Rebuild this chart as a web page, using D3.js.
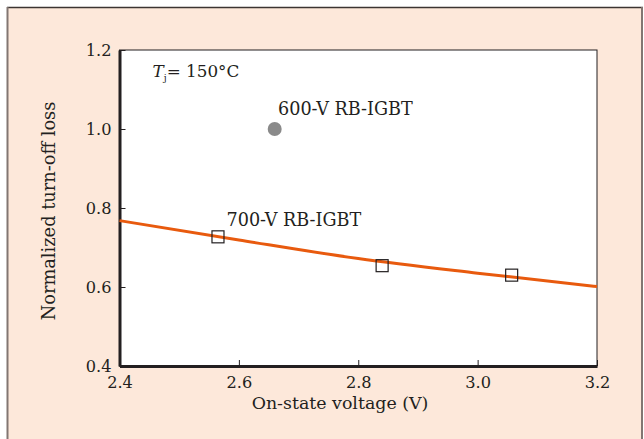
<!DOCTYPE html>
<html>
<head>
<meta charset="utf-8">
<script src="https://cdn.jsdelivr.net/npm/d3@7/dist/d3.min.js"></script>
<style>
  html, body { margin: 0; padding: 0; background: #ffffff; }
  svg { display: block; }
  text { font-family: "DejaVu Serif", "Liberation Serif", serif; fill: #231f20; }
</style>
</head>
<body>
<svg id="chart" width="644" height="439"></svg>
<script>
// Normalized turn-off loss vs on-state voltage, Tj = 150 °C
const xTicks = [2.4, 2.6, 2.8, 3.0, 3.2];
const yTicks = [0.4, 0.6, 0.8, 1.0, 1.2];

// 600-V RB-IGBT (single device)
const igbt600X = [2.66];
const igbt600Y = [1.0];

// 700-V RB-IGBT (measured devices)
const igbt700X = [2.565, 2.84, 3.057];
const igbt700Y = [0.727, 0.654, 0.630];

// Trade-off trend curve for the 700-V devices
const trendX = [2.4, 2.6, 2.8, 3.0, 3.2];
const trendY = [0.768, 0.719, 0.672, 0.635, 0.601];

const svg = d3.select("#chart");
const W = 644, H = 439;
const plot = { left: 119.5, right: 597, top: 50, bottom: 366 };

// Panel background and frame
svg.append("rect")
  .attr("x", 7).attr("y", 7).attr("width", 636).attr("height", H)
  .attr("fill", "#fde8da");
svg.append("line").attr("x1", 7).attr("x2", 643).attr("y1", 7.5).attr("y2", 7.5)
  .attr("stroke", "#3c3432").attr("stroke-width", 1.5);
svg.append("line").attr("x1", 7.5).attr("x2", 7.5).attr("y1", 7).attr("y2", H)
  .attr("stroke", "#827672").attr("stroke-width", 2);
svg.append("line").attr("x1", 642).attr("x2", 642).attr("y1", 7).attr("y2", H)
  .attr("stroke", "#827672").attr("stroke-width", 2);

const x = d3.scaleLinear().domain([2.4, 3.2]).range([plot.left, plot.right]);
const y = d3.scaleLinear().domain([0.4, 1.2]).range([plot.bottom, plot.top]);

// Plot area
svg.append("rect")
  .attr("x", plot.left).attr("y", plot.top)
  .attr("width", plot.right - plot.left).attr("height", plot.bottom - plot.top)
  .attr("fill", "#ffffff").attr("stroke", "#231f20").attr("stroke-width", 1);

// Axes with inward ticks
const fmt = d3.format(".1f");
const gx = svg.append("g")
  .attr("transform", `translate(0,${plot.bottom})`)
  .call(d3.axisBottom(x).tickValues(xTicks).tickFormat(fmt).tickSizeInner(-6).tickSizeOuter(0).tickPadding(10.5));
const gy = svg.append("g")
  .attr("transform", `translate(${plot.left},0)`)
  .call(d3.axisLeft(y).tickValues(yTicks).tickFormat(fmt).tickSizeInner(-6).tickSizeOuter(0).tickPadding(8));

[gx, gy].forEach(g => {
  g.select(".domain").attr("stroke", "#231f20").attr("stroke-width", 3);
  g.selectAll(".tick line").attr("stroke", "#231f20").attr("stroke-width", 1);
  g.selectAll(".tick text")
    .attr("font-family", "DejaVu Serif, serif")
    .attr("font-size", 16.2).attr("fill", "#231f20");
});
gy.selectAll(".tick text").attr("dy", "0.36em");

// Axis titles
svg.append("text")
  .attr("x", 340).attr("y", 409)
  .attr("text-anchor", "middle").attr("font-size", 17.4)
  .text("On-state voltage (V)");
svg.append("text")
  .attr("transform", `translate(55,211) rotate(-90)`)
  .attr("text-anchor", "middle").attr("font-size", 17.8)
  .text("Normalized turn-off loss");

// Trend curve
const line = d3.line().x((d, i) => x(trendX[i])).y(d => y(d)).curve(d3.curveMonotoneX);
svg.append("path")
  .datum(trendY)
  .attr("d", line)
  .attr("fill", "none").attr("stroke", "#e85a0e").attr("stroke-width", 3);

// 700-V markers
const sq = 12;
svg.append("g").selectAll("rect")
  .data(igbt700Y)
  .join("rect")
  .attr("x", (d, i) => x(igbt700X[i]) - sq / 2)
  .attr("y", d => y(d) - sq / 2)
  .attr("width", sq).attr("height", sq)
  .attr("fill", "none").attr("stroke", "#231f20").attr("stroke-width", 1.2);

// 600-V marker
svg.append("g").selectAll("circle")
  .data(igbt600Y)
  .join("circle")
  .attr("cx", (d, i) => x(igbt600X[i]))
  .attr("cy", d => y(d))
  .attr("r", 7)
  .attr("fill", "#8a8a8a");

// Series labels
svg.append("text")
  .attr("x", 278).attr("y", 115)
  .attr("font-size", 17.6).text("600-V RB-IGBT");
svg.append("text")
  .attr("x", 226.5).attr("y", 226)
  .attr("font-size", 17.6).text("700-V RB-IGBT");

// Junction temperature note
const tj = svg.append("text").attr("x", 152.5).attr("y", 77).attr("font-size", 16.8);
tj.append("tspan").attr("font-style", "italic").text("T");
tj.append("tspan").attr("font-size", 9.5).attr("dy", 4).text("j");
tj.append("tspan").attr("dy", -4).text("= 150°C");
</script>
</body>
</html>
